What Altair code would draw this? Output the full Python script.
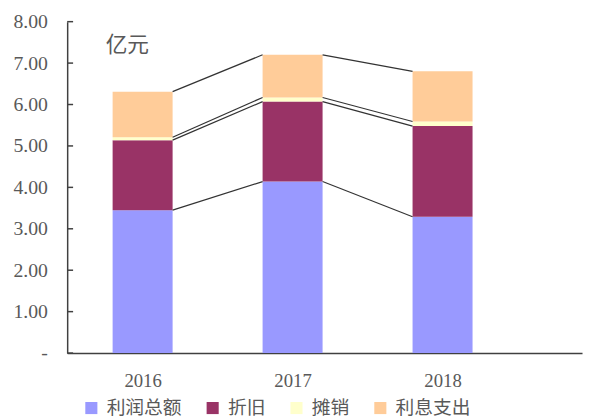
import altair as alt
import pandas as pd

years = ["2016", "2017", "2018"]
series = ["利润总额", "折旧", "摊销", "利息支出"]
colors = ["#9999FF", "#993366", "#FFFFCC", "#FFCC99"]
profit = [3.45, 4.14, 3.29]
depreciation = [1.69, 1.93, 2.19]
amortization = [0.07, 0.10, 0.11]
interest = [1.10, 1.03, 1.21]
y_ticks = [0, 1, 2, 3, 4, 5, 6, 7, 8]

values = [profit, depreciation, amortization, interest]
HALF = 0.2

rows = []
for i, yr in enumerate(years):
    base = 0.0
    for s, vals in zip(series, values):
        rows.append({"pos": i, "year": yr, "series": s, "y0": base, "y1": base + vals[i],
                     "xa": i - HALF, "xb": i + HALF})
        base += vals[i]
bars_df = pd.DataFrame(rows)

conn = []
for s in series:
    sub = bars_df[bars_df.series == s].sort_values("pos")
    tops = list(sub["y1"])
    for i in range(len(years) - 1):
        conn.append({"series": s, "xa": i + HALF, "xb": i + 1 - HALF, "ya": tops[i], "yb": tops[i + 1]})
conn_df = pd.DataFrame(conn)

xscale = alt.Scale(domain=[-0.503, 2.93], nice=False, zero=False)
yscale = alt.Scale(domain=[0, 8], nice=False)

GRAY = "#595959"
bars = alt.Chart(bars_df).mark_bar().encode(
    x=alt.X("xa:Q", scale=xscale,
            axis=alt.Axis(title=None, values=[0, 1, 2], labelExpr="['2016','2017','2018'][datum.value]",
                          tickSize=0, labelPadding=19, grid=False, domainColor="#404040", domainWidth=1.5,
                          labelFont="Liberation Serif", labelFontSize=19, labelColor=GRAY)),
    x2="xb:Q",
    y=alt.Y("y0:Q", scale=yscale,
            axis=alt.Axis(title=None, values=y_ticks,
                          labelExpr="datum.value == 0 ? '-\u00a0\u00a0' : format(datum.value, '.2f')",
                          tickSize=0, labelPadding=20, grid=False, domainColor="#404040", domainWidth=1.5,
                          labelFont="Liberation Serif", labelFontSize=20, labelColor=GRAY)),
    y2="y1:Q",
    color=alt.Color("series:N", scale=alt.Scale(domain=series, range=colors),
                    legend=alt.Legend(title=None, orient="none", legendX=15, legendY=382,
                                      direction="horizontal", symbolType="square", symbolSize=150,
                                      symbolStrokeWidth=0, labelFont="Noto Sans CJK SC", labelFontSize=19,
                                      labelColor=GRAY, columnPadding=21, labelOffset=6, labelLimit=200)),
)

lines = alt.Chart(conn_df).mark_rule(color="#333333", strokeWidth=1.2).encode(
    x=alt.X("xa:Q", scale=xscale), x2="xb:Q",
    y=alt.Y("ya:Q", scale=yscale), y2="yb:Q",
)

ticks = alt.Chart(pd.DataFrame({"t": y_ticks})).mark_rule(color="#404040", strokeWidth=1.5).encode(
    y=alt.Y("t:Q", scale=yscale), x=alt.value(0), x2=alt.value(6),
)

unit = alt.Chart(pd.DataFrame({"t": ["亿元"]})).mark_text(
    align="left", baseline="alphabetic", font="Noto Sans CJK SC", fontSize=22, color=GRAY
).encode(text="t:N", x=alt.value(39), y=alt.value(31))

chart = alt.layer(bars, lines, ticks, unit).properties(
    width=522, height=336, autosize=alt.AutoSizeParams(type="none"),
    padding={"left": 60, "top": 11, "right": 2, "bottom": 64},
).configure_view(stroke=None)

chart.save("out.html", embed_options={"renderer": "svg", "actions": False})
